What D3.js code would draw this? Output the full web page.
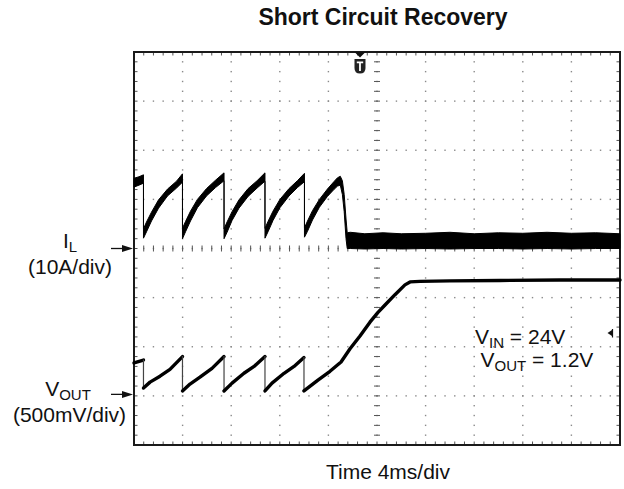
<!DOCTYPE html>
<html>
<head>
<meta charset="utf-8">
<script src="https://cdn.jsdelivr.net/npm/d3@7"></script>
<style>
  body { margin: 0; background: #fff; }
  text { font-family: "Liberation Sans", Arial, sans-serif; fill: #111; }
</style>
</head>
<body>
<script>
"use strict";

// svg parameters
var svgWidth = 624;
var svgHeight = 489;

// scope screen
var plotLeft = 134, plotRight = 620, plotTop = 52, plotBottom = 445;
var xDivs = 10, yDivs = 8, minorPerDiv = 5;

// time axis: 4ms/div
var timeRange = [0, 40];
// IL: 10A/div, ground on the centre line
var ilRange = [-40, 40];
// VOUT: 500mV/div, ground 3 div below centre
var voutRange = [-0.5, 3.5];

var triggerTime = 18.6;

// inductor current, band envelope (A)
var ilTime = [0, 0.41, 0.78, 0.78, 1.03, 1.44, 2.02, 2.76, 3.50, 3.99,
    3.99, 4.24, 4.65, 5.22, 5.97, 6.71, 7.41,
    7.41, 7.66, 8.07, 8.64, 9.39, 10.13, 10.78,
    10.78, 11.03, 11.44, 12.01, 12.76, 13.45, 14.03,
    14.03, 14.28, 14.69, 15.26, 15.92, 16.45, 16.75, 16.98, 17.15, 17.30, 17.45, 17.55,
    17.8, 19.0, 20.5, 22.0, 24.0, 26.0, 28.0, 30.0, 32.0, 34.0, 36.0, 38.0, 40.0];
var ilHigh = [14.3, 14.6, 15.0, 4.0, 5.4, 7.4, 9.9, 12.1, 13.7, 15.2,
    4.1, 5.5, 7.6, 10.0, 12.2, 13.9, 15.4,
    4.0, 5.4, 7.5, 9.9, 12.2, 13.8, 15.4,
    4.1, 5.5, 7.6, 10.0, 12.2, 13.8, 15.3,
    4.2, 5.6, 7.7, 10.0, 12.1, 13.6, 14.4, 14.7, 13.8, 11.0, 6.0, 3.2,
    3.3, 3.0, 3.2, 3.0, 3.1, 3.3, 3.0, 3.2, 3.1, 3.3, 3.1, 3.2, 3.0];
var ilLow = [12.5, 12.9, 13.3, 2.1, 3.4, 5.6, 8.2, 10.7, 12.3, 13.5,
    2.0, 3.4, 5.6, 8.3, 10.7, 12.4, 13.8,
    2.0, 3.3, 5.7, 8.2, 10.6, 12.3, 13.7,
    2.1, 3.4, 5.7, 8.3, 10.7, 12.4, 13.6,
    2.3, 3.5, 5.8, 8.4, 10.6, 12.0, 12.7, 12.9, 11.0, 7.5, 2.0, 0.0,
    0.0, -0.1, 0.0, -0.1, 0.0, -0.1, 0.0, 0.0, -0.1, 0.0, -0.1, 0.0, 0.0];

// output voltage (V)
var vTime = [0, 0.78, 0.78, 1.32, 2.14, 2.96, 3.99, 3.99, 4.61, 5.43, 6.42, 7.41,
    7.41, 8.07, 9.05, 9.88, 10.78, 10.78, 11.36, 12.35, 13.17, 13.99,
    13.99, 15.14, 16.13, 17.04, 17.78, 18.6, 19.42, 20.08, 20.66, 21.48, 22.3, 22.72,
    23.54, 26.0, 30.1, 35.06, 40];
var vOut = [0.335, 0.365, 0.08, 0.14, 0.20, 0.27, 0.40, 0.05, 0.12, 0.19, 0.28, 0.40,
    0.05, 0.13, 0.23, 0.30, 0.40, 0.05, 0.13, 0.23, 0.30, 0.39,
    0.05, 0.16, 0.25, 0.345, 0.48, 0.61, 0.75, 0.85, 0.925, 1.03, 1.13, 1.16,
    1.165, 1.17, 1.175, 1.18, 1.18];

var svg, x, yI, yV, gx, gy;

svg = d3.select("body").append("svg").attr("width", svgWidth).attr("height", svgHeight);

x = d3.scaleLinear().domain(timeRange).range([plotLeft, plotRight]);
yI = d3.scaleLinear().domain(ilRange).range([plotBottom, plotTop]);
yV = d3.scaleLinear().domain(voutRange).range([plotBottom, plotTop]);
gx = d3.scaleLinear().domain([0, xDivs]).range([plotLeft, plotRight]);
gy = d3.scaleLinear().domain([0, yDivs]).range([plotBottom, plotTop]);

drawGrid();
drawTraces();
drawLabels();

function drawGrid() {
    var g = svg.append("g").attr("class", "grid");
    var minorX = d3.range(0, xDivs * minorPerDiv + 1).map(function (i) { return i / minorPerDiv; });
    var minorY = d3.range(0, yDivs * minorPerDiv + 1).map(function (i) { return i / minorPerDiv; });

    // dotted division lines
    d3.range(1, xDivs).forEach(function (d) {
        g.selectAll(null).data(minorY).enter().append("rect")
            .attr("x", gx(d) - 0.7).attr("y", function (v) { return gy(v) - 0.7; })
            .attr("width", 1.4).attr("height", 1.4).attr("fill", "#8a8a8a");
    });
    d3.range(1, yDivs).forEach(function (d) {
        g.selectAll(null).data(minorX).enter().append("rect")
            .attr("y", gy(d) - 0.7).attr("x", function (v) { return gx(v) - 0.7; })
            .attr("width", 1.4).attr("height", 1.4).attr("fill", "#8a8a8a");
    });

    // ticks on the centre lines
    g.selectAll(null).data(minorY).enter().append("line")
        .attr("x1", gx(xDivs / 2) - 3).attr("x2", gx(xDivs / 2) + 3)
        .attr("y1", function (v) { return gy(v); }).attr("y2", function (v) { return gy(v); })
        .attr("stroke", "#555").attr("stroke-width", 1);
    g.selectAll(null).data(minorX).enter().append("line")
        .attr("y1", gy(yDivs / 2) - 3).attr("y2", gy(yDivs / 2) + 3)
        .attr("x1", function (v) { return gx(v); }).attr("x2", function (v) { return gx(v); })
        .attr("stroke", "#555").attr("stroke-width", 1);

    // ticks on the border, pointing inward
    g.selectAll(null).data(minorX).enter().append("line")
        .attr("x1", function (v) { return gx(v); }).attr("x2", function (v) { return gx(v); })
        .attr("y1", plotTop).attr("y2", plotTop + 3.5)
        .attr("stroke", "#555");
    g.selectAll(null).data(minorX).enter().append("line")
        .attr("x1", function (v) { return gx(v); }).attr("x2", function (v) { return gx(v); })
        .attr("y1", plotBottom).attr("y2", plotBottom - 3.5)
        .attr("stroke", "#555");
    g.selectAll(null).data(minorY).enter().append("line")
        .attr("y1", function (v) { return gy(v); }).attr("y2", function (v) { return gy(v); })
        .attr("x1", plotLeft).attr("x2", plotLeft + 3.5)
        .attr("stroke", "#555");
    g.selectAll(null).data(minorY).enter().append("line")
        .attr("y1", function (v) { return gy(v); }).attr("y2", function (v) { return gy(v); })
        .attr("x1", plotRight).attr("x2", plotRight - 3.5)
        .attr("stroke", "#555");

    // frame
    g.append("rect")
        .attr("x", plotLeft).attr("y", plotTop)
        .attr("width", plotRight - plotLeft).attr("height", plotBottom - plotTop)
        .attr("fill", "none").attr("stroke", "#1a1a1a").attr("stroke-width", 2);
}

function drawTraces() {
    var ilData = ilTime.map(function (t, i) { return {t: t, hi: ilHigh[i], lo: ilLow[i]}; });
    var vData = vTime.map(function (t, i) { return {t: t, v: vOut[i]}; });

    var ilArea = d3.area()
        .x(function (d) { return x(d.t); })
        .y0(function (d) { return yI(d.lo); })
        .y1(function (d) { return yI(d.hi); });

    svg.append("path")
        .datum(ilData)
        .attr("d", ilArea)
        .attr("fill", "#000")
        .attr("stroke", "#000")
        .attr("stroke-width", 1)
        .attr("stroke-linejoin", "round");

    // split the voltage trace: ramps are thick, the fast drops are thin
    var runs = [], current = [vData[0]];
    for (var i = 1; i < vData.length; i++) {
        if (vData[i].t === vData[i - 1].t) {
            runs.push({thin: false, pts: current});
            runs.push({thin: true, pts: [vData[i - 1], vData[i]]});
            current = [vData[i]];
        } else {
            current.push(vData[i]);
        }
    }
    runs.push({thin: false, pts: current});

    var vLine = d3.line()
        .x(function (d) { return x(d.t); })
        .y(function (d) { return yV(d.v); });

    svg.append("g").selectAll("path").data(runs).enter().append("path")
        .attr("d", function (r) { return vLine(r.pts); })
        .attr("fill", "none")
        .attr("stroke", function (r) { return r.thin ? "#444" : "#000"; })
        .attr("stroke-width", function (r) { return r.thin ? 1.2 : 3.4; })
        .attr("stroke-linecap", "round")
        .attr("stroke-linejoin", "round");
}

function arrow(yPos) {
    svg.append("line")
        .attr("x1", 111).attr("x2", 125).attr("y1", yPos).attr("y2", yPos)
        .attr("stroke", "#111").attr("stroke-width", 1.3);
    svg.append("path")
        .attr("d", "M" + 133 + "," + yPos + "L" + 122 + "," + (yPos - 3.5) + "L" + 122 + "," + (yPos + 3.5) + "Z")
        .attr("fill", "#111");
}

function subText(xPos, yPos, anchor, main, sub, rest) {
    var t = svg.append("text").attr("x", xPos).attr("y", yPos)
        .attr("text-anchor", anchor).style("font-size", "21px");
    t.append("tspan").text(main);
    t.append("tspan").attr("dy", 4).style("font-size", "15px").text(sub);
    if (rest) {
        t.append("tspan").attr("dy", -4).text(rest);
    }
}

function drawLabels() {
    svg.append("text")
        .attr("x", 383).attr("y", 25)
        .attr("text-anchor", "middle")
        .style("font-size", "23px").style("font-weight", "bold")
        .text("Short Circuit Recovery");

    svg.append("text")
        .attr("x", 388).attr("y", 479)
        .attr("text-anchor", "middle")
        .style("font-size", "21px")
        .text("Time 4ms/div");

    // channel labels
    subText(70, 248, "middle", "I", "L", null);
    svg.append("text").attr("x", 70).attr("y", 273.5).attr("text-anchor", "middle")
        .style("font-size", "21px").text("(10A/div)");
    arrow(yI(0));

    subText(68, 396, "middle", "V", "OUT", null);
    svg.append("text").attr("x", 69.5).attr("y", 422).attr("text-anchor", "middle")
        .style("font-size", "21px").text("(500mV/div)");
    arrow(yV(0) - 1.5);

    // conditions
    subText(475, 344, "start", "V", "IN", " = 24V");
    subText(480.5, 366.5, "start", "V", "OUT", " = 1.2V");

    // small marker at right edge
    svg.append("path").attr("d", "M607.5,333L612,330L612,336Z").attr("fill", "#111");
    svg.append("line").attr("x1", 612.5).attr("x2", 612.5).attr("y1", 329).attr("y2", 337.5)
        .attr("stroke", "#111").attr("stroke-width", 1.2);

    // trigger marker
    var tx = x(triggerTime);
    svg.append("path")
        .attr("d", "M" + (tx - 5.5) + ",52L" + (tx + 5.5) + ",52L" + tx + ",57.5Z")
        .attr("fill", "#111");
    svg.append("path")
        .attr("d", "M" + (tx - 5.5) + ",59L" + (tx + 5.5) + ",59L" + (tx + 5.5) + ",68" +
              "Q" + (tx + 5.5) + ",73.5 " + tx + ",73.5Q" + (tx - 5.5) + ",73.5 " + (tx - 5.5) + ",68Z")
        .attr("fill", "#222");
    svg.append("path")
        .attr("d", "M" + (tx - 3.2) + ",61.5L" + (tx + 3.2) + ",61.5L" + (tx + 3.2) + ",63.3L" +
              (tx + 0.9) + ",63.3L" + (tx + 0.9) + ",71L" + (tx - 0.9) + ",71L" + (tx - 0.9) + ",63.3L" +
              (tx - 3.2) + ",63.3Z")
        .attr("fill", "#fff");
}
</script>
</body>
</html>
